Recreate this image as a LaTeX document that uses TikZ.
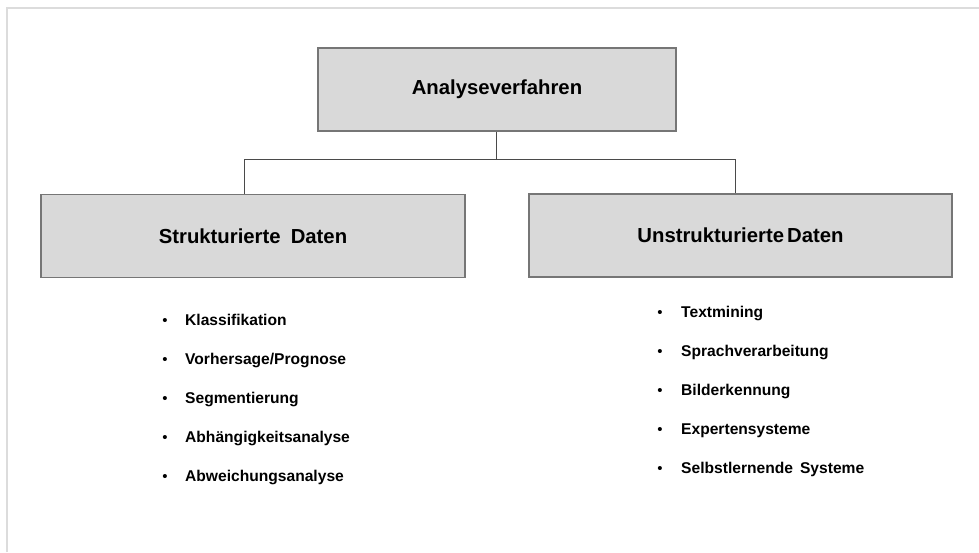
\documentclass[tikz,border=0pt]{standalone}
\usepackage{fontspec}
\setmainfont{Liberation Sans}
\begin{document}
\begin{tikzpicture}[x=1pt,y=-1pt,
  box/.style={draw=boxline,fill=boxfill,line width=1.3pt,inner sep=0pt,
    font=\fontsize{20.3}{24}\selectfont\bfseries},
  conn/.style={draw=connline,line width=0.9pt},
  item/.style={anchor=base west,inner sep=0pt,font=\fontsize{15.6}{18}\selectfont\bfseries},
  dot/.style={anchor=base,inner sep=0pt,font=\fontsize{15}{18}\selectfont}]
\definecolor{boxfill}{HTML}{D9D9D9}
\definecolor{boxline}{HTML}{767676}
\definecolor{connline}{HTML}{4A4A4A}
\definecolor{frameline}{HTML}{DCDCDC}
\useasboundingbox (0,0) rectangle (979,552);
\draw[frameline,line width=2pt] (7,552) -- (7,8) -- (979,8);

\node[box,minimum width=358pt,minimum height=83pt] (top) at (497,89.5) {Analyseverfahren};
\node[box,minimum width=424pt,minimum height=83pt] (left) at (253,236) {Strukturierte\hspace{0.5em}Daten};
\node[box,minimum width=423pt,minimum height=83pt] (right) at (740.5,235.5) {Unstrukturierte\hspace{0.15em}Daten};

\coordinate (j) at (496,159);
\coordinate (jl) at (244,159);
\coordinate (jr) at (735,159);
\draw[conn] (top.south -| j) -- (j);
\draw[conn] (jl) -- (jr);
\draw[conn] (jl) -- (jl |- left.north);
\draw[conn] (jr) -- (jr |- right.north);

% left list
\foreach \t [count=\i from 0] in {Klassifikation,Vorhersage/Prognose,Segmentierung,Abh\"angigkeitsanalyse,Abweichungsanalyse}{
  \node[dot] (ld\i) at (165,325+39*\i) {•};
  \node[item] (li\i) at (185,325+39*\i) {\t};
}
% right list
\foreach \t [count=\i from 0] in {Textmining,Sprachverarbeitung,Bilderkennung,Expertensysteme,Selbstlernende\hspace{0.45em}Systeme}{
  \node[dot] (rd\i) at (660,317+39*\i) {•};
  \node[item] (ri\i) at (681,317+39*\i) {\t};
}
\end{tikzpicture}
\end{document}
